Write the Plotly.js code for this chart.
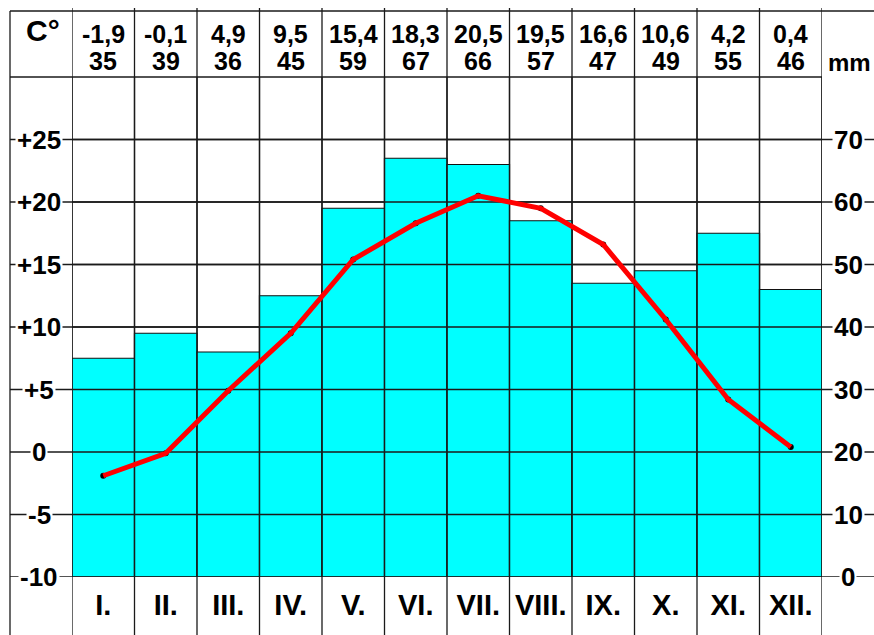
<!DOCTYPE html>
<html><head><meta charset="utf-8">
<script src="https://cdn.plot.ly/plotly-3.0.1.min.js"></script>
<style>html,body{margin:0;padding:0;background:#fff}</style>
</head><body><div id="chart" style="width:874px;height:635px"></div>
<script>
const months = ['I.','II.','III.','IV.','V.','VI.','VII.','VIII.','IX.','X.','XI.','XII.'];
const temperature = [-1.9,-0.1,4.9,9.5,15.4,18.3,20.5,19.5,16.6,10.6,4.2,0.4];
const precipitation = [35,39,36,45,59,67,66,57,47,49,55,46];
const tempTicks = [-10,-5,0,5,10,15,20,25];
const tempTickLabels = ['-10','-5','0','+5','+10','+15','+20','+25'];
const precTicks = [0,10,20,30,40,50,60,70];
const precTickLabels = ['0','10','20','30','40','50','60','70'];
const tempUnit = 'C°';
const precUnit = 'mm';

const W = 874, H = 635, L = 72, R = 52, T = 77, B = 58;
const PW = W - L - R, PH = H - T - B;
const px = p => (p - L) / PW;
const py = p => (H - B - p) / PH;
const FONT = '"Liberation Sans", Arial, sans-serif';
const fmt = v => String(v).replace('.', ',');
const idx = months.map((m, i) => i);

// grid trace (above bars, below temperature line)
const gx = [], gy = [];
precTicks.forEach(t => { gx.push(-0.5, months.length - 0.5, null); gy.push(t, t, null); });
for (let i = 0; i <= months.length; i++) { gx.push(i - 0.5, i - 0.5, null); gy.push(0, 80, null); }

const traces = [
  {type: 'bar', x: idx, y: precipitation, yaxis: 'y', width: 1,
   marker: {color: '#00ffff', line: {color: '#111', width: 1.2}}, hoverinfo: 'skip'},
  {type: 'scatter', mode: 'lines', x: gx, y: gy, yaxis: 'y',
   line: {color: '#1a1a1a', width: 1.3}, hoverinfo: 'skip', connectgaps: false},
  {type: 'scatter', mode: 'markers', x: idx, y: temperature, yaxis: 'y2',
   marker: {color: '#000', size: 6}, hoverinfo: 'skip'},
  {type: 'scatter', mode: 'lines', x: idx, y: temperature, yaxis: 'y2',
   line: {color: '#ff0000', width: 5}, hoverinfo: 'skip'}
];

const shapes = [];
const lineBlk = {color: '#1a1a1a', width: 1.3};
// top border of header
shapes.push({type: 'line', xref: 'paper', yref: 'paper', x0: px(10), x1: px(874), y0: py(11), y1: py(11), line: lineBlk, layer: 'above'});
// header bottom
shapes.push({type: 'line', xref: 'paper', yref: 'paper', x0: px(10), x1: 1, y0: 1, y1: 1, line: lineBlk, layer: 'above'});
// left frame
shapes.push({type: 'line', xref: 'paper', yref: 'paper', x0: px(10), x1: px(10), y0: py(11), y1: py(636), line: lineBlk, layer: 'above'});
// column lines full height
for (let i = 0; i <= months.length; i++) {
  shapes.push({type: 'line', xref: 'x', yref: 'paper', x0: i - 0.5, x1: i - 0.5, y0: py(8), y1: py(636), line: lineBlk, layer: 'below'});
}
// tick lines extending across label columns
tempTicks.forEach(t => {
  shapes.push({type: 'line', xref: 'paper', yref: 'y2', x0: px(10), x1: px(874), y0: t, y1: t, line: lineBlk, layer: 'below'});
});

const annotations = [];
temperature.forEach((v, i) => annotations.push({x: i, xref: 'x', y: py(34), yref: 'paper', text: fmt(v), showarrow: false,
  font: {family: FONT, size: 25, color: '#000', weight: 'bold'}, xanchor: 'center', yanchor: 'middle'}));
precipitation.forEach((v, i) => annotations.push({x: i, xref: 'x', y: py(61), yref: 'paper', text: fmt(v), showarrow: false,
  font: {family: FONT, size: 25, color: '#000', weight: 'bold'}, xanchor: 'center', yanchor: 'middle'}));
tempTicks.forEach((t, i) => annotations.push({x: px(39), xref: 'paper', y: t, yref: 'y2', text: tempTickLabels[i], showarrow: false,
  font: {family: FONT, size: 26, color: '#000', weight: 'bold'}, xanchor: 'center', yanchor: 'middle', bgcolor: '#fff', borderpad: 1}));
precTicks.forEach((t, i) => annotations.push({x: px(848), xref: 'paper', y: t, yref: 'y', text: precTickLabels[i], showarrow: false,
  font: {family: FONT, size: 26, color: '#000', weight: 'bold'}, xanchor: 'center', yanchor: 'middle', bgcolor: '#fff', borderpad: 1}));
annotations.push({x: px(43), xref: 'paper', y: py(31), yref: 'paper', text: tempUnit, showarrow: false,
  font: {family: FONT, size: 30, color: '#000', weight: 'bold'}, xanchor: 'center', yanchor: 'middle'});
annotations.push({x: px(849), xref: 'paper', y: py(63), yref: 'paper', text: precUnit, showarrow: false,
  font: {family: FONT, size: 24, color: '#000', weight: 'bold'}, xanchor: 'center', yanchor: 'middle'});

const layout = {
  width: W, height: H,
  margin: {l: L, r: R, t: T, b: B, pad: 0},
  paper_bgcolor: '#fff', plot_bgcolor: '#fff',
  showlegend: false, bargap: 0,
  xaxis: {range: [-0.5, months.length - 0.5], tickvals: idx, ticktext: months, ticks: '',
    showgrid: false, zeroline: false, showline: false, ticklabelstandoff: 8,
    tickfont: {family: FONT, size: 29, color: '#000', weight: 'bold'}, fixedrange: true},
  yaxis: {range: [0, 80], side: 'right', showgrid: false, zeroline: false, showline: false,
    showticklabels: false, ticks: '', fixedrange: true},
  yaxis2: {range: [-10, 30], overlaying: 'y', side: 'left', showgrid: false, zeroline: false, showline: false,
    showticklabels: false, ticks: '', fixedrange: true},
  shapes: shapes, annotations: annotations
};

Plotly.newPlot('chart', traces, layout, {displayModeBar: false, staticPlot: true});
</script></body></html>
